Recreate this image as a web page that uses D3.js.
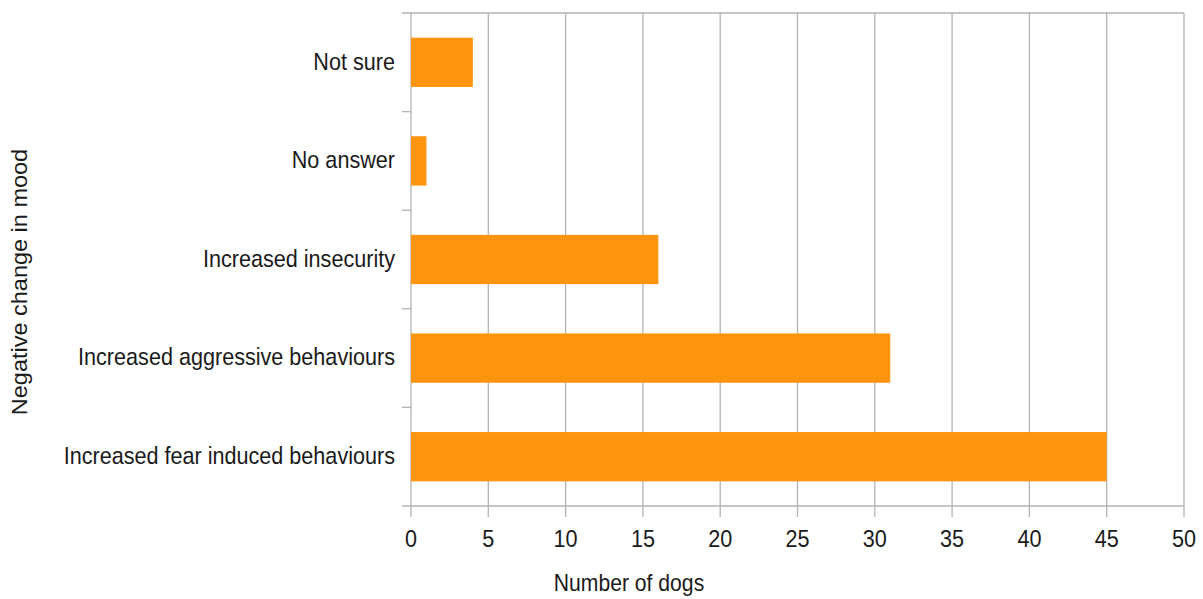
<!DOCTYPE html>
<html>
<head>
<meta charset="utf-8">
<script src="https://cdn.jsdelivr.net/npm/d3@7"></script>
<style>
  html, body { margin: 0; padding: 0; background: #fff; }
  svg text { font-family: "Liberation Sans", Arial, sans-serif; fill: #1a1a1a; }
</style>
</head>
<body>
<svg id="chart" width="1203" height="599"></svg>
<script>
// Negative change in mood, number of dogs per answer (top to bottom)
const categories = [
  "Not sure",
  "No answer",
  "Increased insecurity",
  "Increased aggressive behaviours",
  "Increased fear induced behaviours"
];
const dogCounts = [4, 1, 16, 31, 45];
const xTicks = [0, 5, 10, 15, 20, 25, 30, 35, 40, 45, 50];

const svg = d3.select("#chart");
const margin = { top: 13, right: 19, bottom: 93, left: 411 };
const W = 1203, H = 599;
const innerW = W - margin.left - margin.right;
const innerH = H - margin.top - margin.bottom;
const squeeze = 0.9;   // horizontal squeeze for a condensed look
const fontSize = 24;

const g = svg.append("g").attr("transform", `translate(${margin.left},${margin.top})`);

const x = d3.scaleLinear().domain([0, 50]).range([0, innerW]);
const y = d3.scaleBand().domain(categories).range([0, innerH]).paddingInner(0.5).paddingOuter(0.25);
const yEdges = d3.scaleLinear().domain([0, categories.length]).range([0, innerH]);

const gridColor = "#b3b3b3";

// vertical gridlines
g.append("g").selectAll("line").data(xTicks).join("line")
  .attr("x1", d => x(d)).attr("x2", d => x(d))
  .attr("y1", 0).attr("y2", innerH + 11)
  .attr("stroke", gridColor).attr("stroke-width", 1.3);

// top frame line and bottom axis line
[0, innerH].forEach(yy => {
  g.append("line").attr("x1", -9).attr("x2", x(50)).attr("y1", yy).attr("y2", yy)
    .attr("stroke", gridColor).attr("stroke-width", 1.3);
});

// category boundary ticks on the left
g.append("g").selectAll("line").data(d3.range(1, categories.length)).join("line")
  .attr("x1", -9).attr("x2", 0)
  .attr("y1", d => yEdges(d)).attr("y2", d => yEdges(d))
  .attr("stroke", gridColor).attr("stroke-width", 1.3);

// bars
g.append("g").selectAll("rect").data(categories).join("rect")
  .attr("x", x(0))
  .attr("y", d => y(d))
  .attr("width", (d, i) => x(dogCounts[i]) - x(0))
  .attr("height", y.bandwidth())
  .attr("fill", "#ff950e");

// category labels
g.append("g").selectAll("text").data(categories).join("text")
  .attr("transform", d => `translate(-16,${y(d) + y.bandwidth() / 2}) scale(${squeeze},1)`)
  .attr("dy", "0.3em")
  .attr("text-anchor", "end")
  .attr("font-size", fontSize)
  .text(d => d);

// x tick labels
g.append("g").selectAll("text").data(xTicks).join("text")
  .attr("transform", d => `translate(${x(d)},${innerH + 41}) scale(${squeeze},1)`)
  .attr("text-anchor", "middle")
  .attr("font-size", fontSize)
  .text(d => d);

// axis titles
svg.append("text")
  .attr("transform", `translate(629,591) scale(${squeeze},1)`)
  .attr("text-anchor", "middle").attr("font-size", 23.5)
  .text("Number of dogs");

svg.append("text")
  .attr("transform", `translate(20,282) scale(${squeeze},1) rotate(-90)`)
  .attr("dy", "0.35em")
  .attr("text-anchor", "middle").attr("font-size", 23.5)
  .text("Negative change in mood");
</script>
</body>
</html>
